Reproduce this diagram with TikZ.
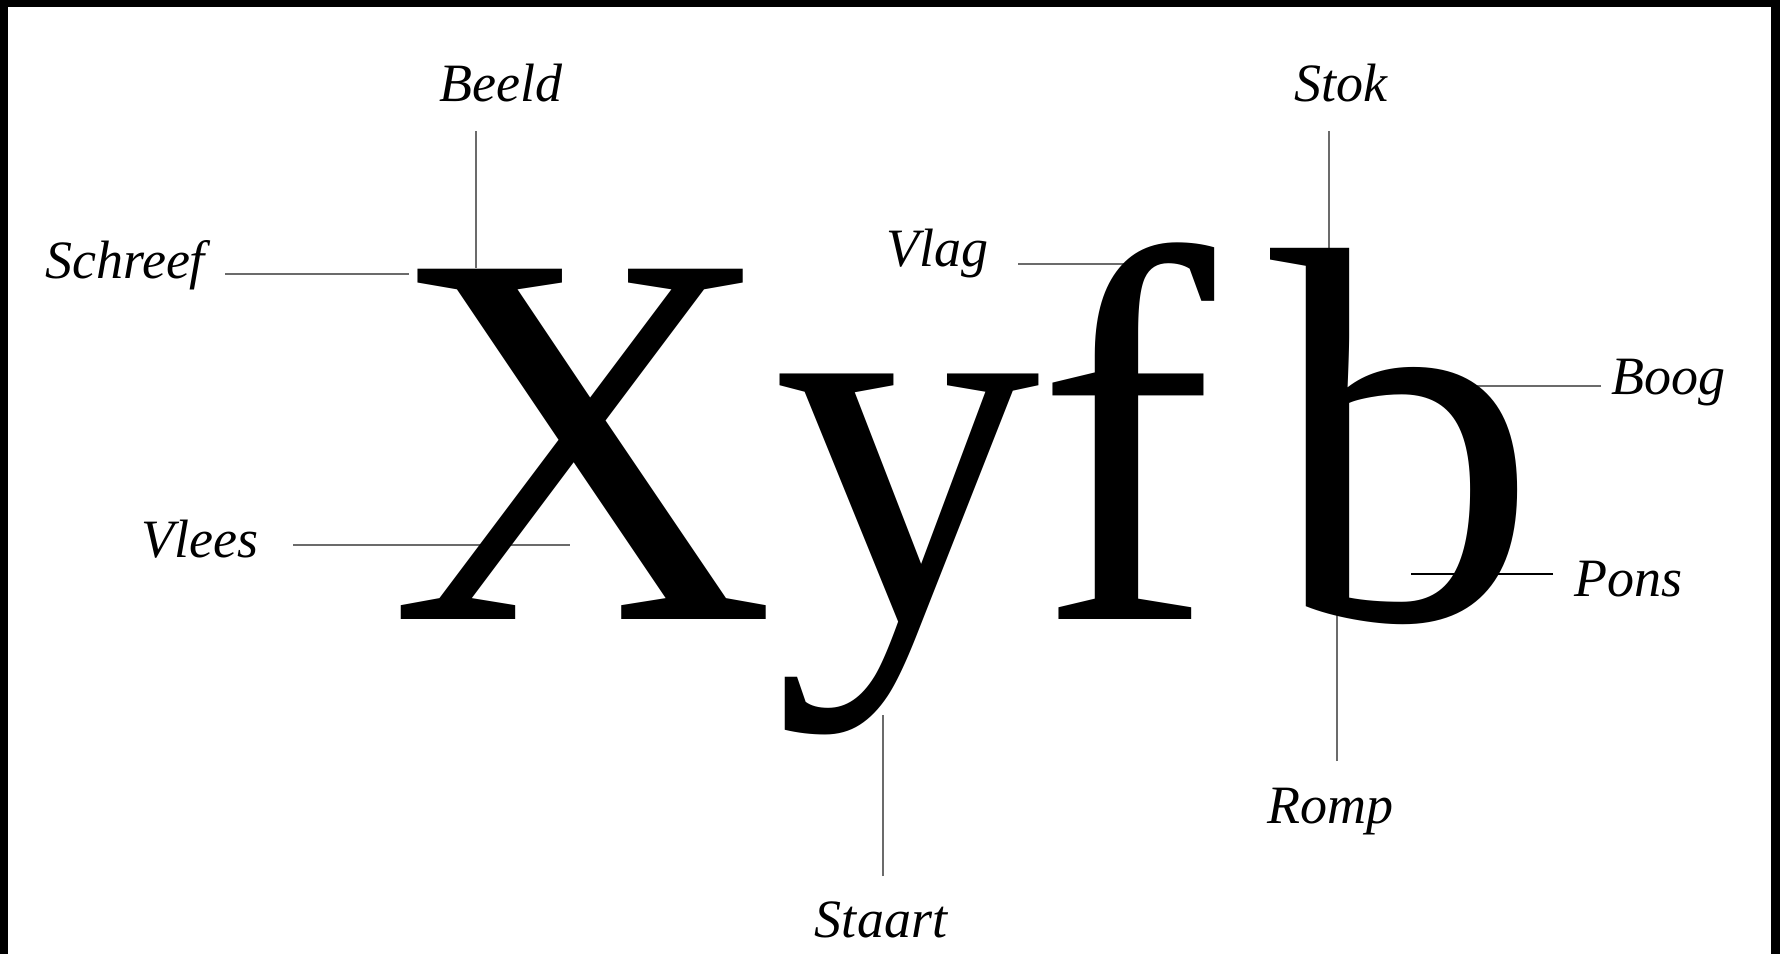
\documentclass[tikz,border=0pt]{standalone}
\usepackage{fontspec}
\setmainfont{Liberation Serif}
\begin{document}
\begin{tikzpicture}[x=1pt,y=-1pt,
  lbl/.style={font=\fontsize{54}{54}\selectfont\itshape, inner sep=0pt, anchor=base},
  lead/.style={draw=black!58, line width=2.2pt},
  big/.style={font=\fontsize{535}{535}\selectfont, inner sep=0pt, anchor=base west}]
\useasboundingbox (0,0) rectangle (1780,954);
\fill[white] (0,0) rectangle (1780,954);
% dark frame on top, left and right
\fill[black] (0,0) rectangle (1780,7);
\fill[black] (0,0) rectangle (8,954);
\fill[black] (1771,0) rectangle (1780,954);
% connector end points
\coordinate (beeldA) at (476,131);  \coordinate (beeldB) at (476,268);
\coordinate (schreefA) at (225,274); \coordinate (schreefB) at (409,274);
\coordinate (vleesA) at (293,545);  \coordinate (vleesB) at (570,545);
\coordinate (vlagA) at (1018,264);  \coordinate (vlagB) at (1147,264);
\coordinate (stokA) at (1329,131);  \coordinate (stokB) at (1329,261);
\coordinate (boogA) at (1601,386);  \coordinate (boogB) at (1476,386);
\coordinate (ponsA) at (1553,574);  \coordinate (ponsB) at (1411,574);
\coordinate (rompA) at (1337,761);  \coordinate (rompB) at (1337,613);
\coordinate (staartA) at (883,876); \coordinate (staartB) at (883,715);
% connectors
\draw[lead] (beeldA) -- (beeldB);
\draw[lead] (schreefA) -- (schreefB);
\draw[lead] (vleesA) -- (vleesB);
\draw[lead] (vlagA) -- (vlagB);
\draw[lead] (stokA) -- (stokB);
\draw[lead] (boogA) -- (boogB);
\draw[lead, draw=black] (ponsA) -- (ponsB);
\draw[lead] (rompA) -- (rompB);
\draw[lead] (staartA) -- (staartB);
% the word, letter by letter
\node[big] (lX) at (389,619) {X};
\node[big] (ly) at (773,619) {y};
\node[big] (lf) at (1036,619) {f};
\node[big] (lb) at (1270,619) {b};
% labels
\node[lbl] (beeld) at (501,101) {Beeld};
\node[lbl] (stok) at (1341,101) {Stok};
\node[lbl] (schreef) at (125,278) {Schreef};
\node[lbl] (vlag) at (937,266) {Vlag};
\node[lbl] (vlees) at (200,557) {Vlees};
\node[lbl] (boog) at (1668,394) {Boog};
\node[lbl] (pons) at (1628,596) {Pons};
\node[lbl] (romp) at (1330,823) {Romp};
\node[lbl] (staart) at (881,937) {Staart};
\end{tikzpicture}
\end{document}
